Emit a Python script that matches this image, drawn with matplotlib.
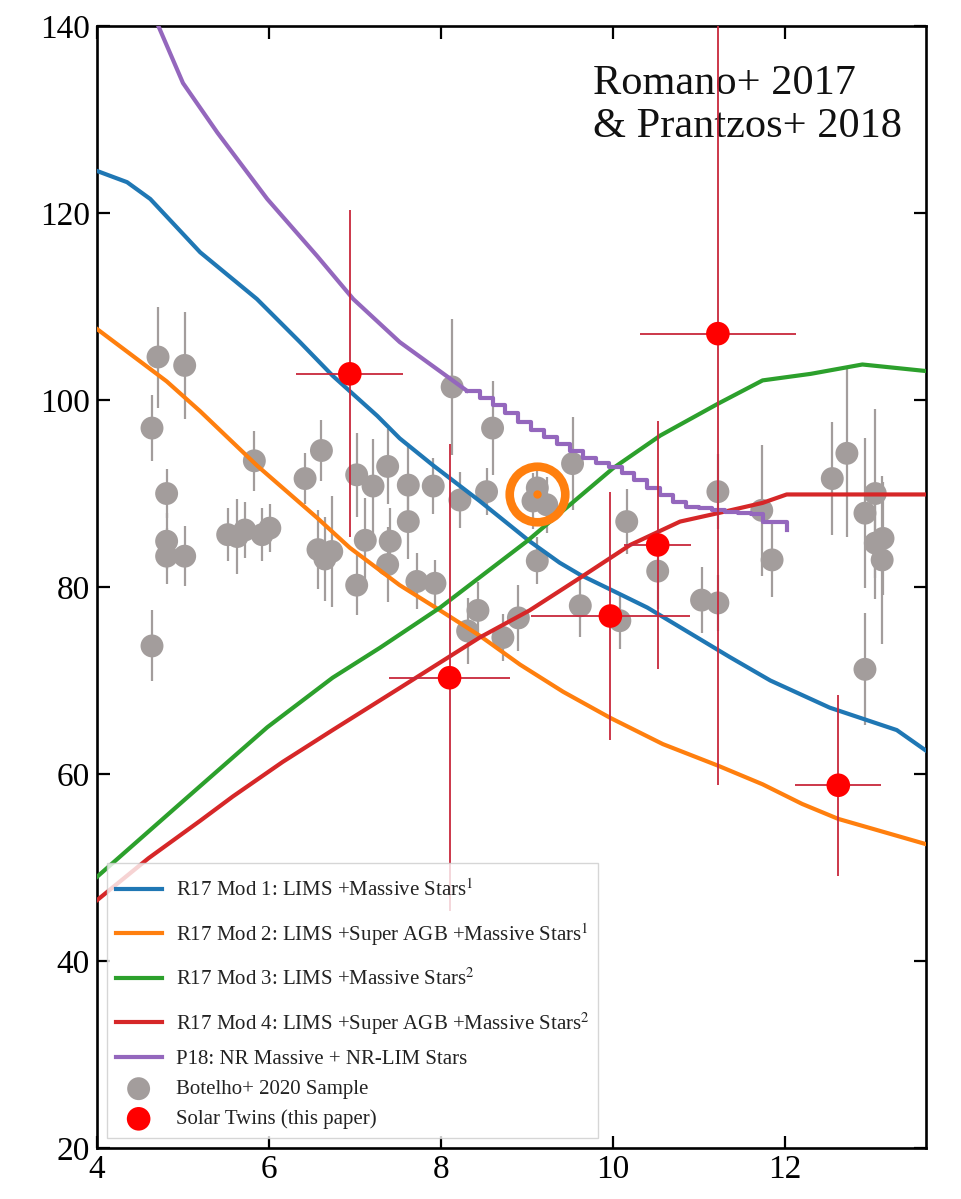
import matplotlib
matplotlib.use("Agg")
import matplotlib.pyplot as plt
from matplotlib.offsetbox import DrawingArea
from matplotlib.lines import Line2D

plt.rcParams['font.family'] = ['Liberation Serif', 'DejaVu Serif']
plt.rcParams['mathtext.fontset'] = 'stix'

# ---------------- data ----------------
mod1_x = [4.0, 4.35, 4.62, 5.2, 5.86, 6.36, 6.74, 7.26, 7.52, 7.91, 8.45, 9.03, 9.38, 9.62, 10.0, 10.4, 10.98, 11.36, 11.83, 12.52, 13.3, 13.64]
mod1_y = [124.5, 123.3, 121.5, 115.8, 110.8, 106.2, 102.6, 98.3, 95.9, 93.0, 89.2, 84.9, 82.6, 81.3, 79.6, 77.8, 74.6, 72.5, 70.0, 67.1, 64.7, 62.5]

mod2_x = [4.0, 4.81, 5.2, 5.86, 6.56, 6.94, 7.52, 7.99, 8.45, 8.92, 9.42, 9.97, 10.58, 11.22, 11.74, 12.2, 12.62, 13.64]
mod2_y = [107.6, 102.0, 98.8, 93.0, 87.4, 84.2, 80.2, 77.5, 74.8, 71.7, 68.8, 66.0, 63.2, 60.9, 58.9, 56.8, 55.2, 52.5]

mod3_x = [4.0, 5.05, 5.98, 6.74, 7.29, 7.99, 9.0, 10.0, 10.55, 11.22, 11.74, 12.3, 12.9, 13.64]
mod3_y = [49.0, 57.5, 65.0, 70.3, 73.5, 77.8, 84.9, 92.7, 96.2, 99.6, 102.1, 102.8, 103.8, 103.1]

mod4_x = [4.0, 4.6, 5.2, 5.58, 6.16, 6.74, 7.52, 8.45, 9.03, 9.62, 10.2, 10.78, 11.22, 11.74, 12.02, 13.64]
mod4_y = [46.5, 51.0, 55.0, 57.6, 61.3, 64.7, 69.2, 74.6, 77.5, 81.0, 84.5, 87.0, 87.9, 89.0, 89.9, 89.9]

p18_x = [4.65, 4.70, 5.0, 5.4, 5.98, 6.56, 6.98, 7.52, 8.0, 8.30]
p18_y = [141.0, 140.3, 133.9, 128.6, 121.5, 115.4, 110.8, 106.2, 103.0, 101.0]
p18_step_x = [8.30, 8.45, 8.60, 8.75, 8.90, 9.05, 9.20, 9.35, 9.50, 9.65, 9.80, 9.95, 10.10, 10.25, 10.40, 10.55, 10.70, 10.85, 11.00, 11.15, 11.30, 11.45, 11.60, 11.75, 11.90, 12.02]
p18_step_y = [101.0, 100.2, 99.5, 98.6, 97.7, 96.8, 96.0, 95.3, 94.5, 93.8, 93.3, 92.8, 92.2, 91.5, 90.6, 89.8, 89.1, 88.6, 88.5, 88.2, 88.0, 87.9, 87.8, 87.0, 87.0, 86.1]

bot_x = [4.64, 4.81, 4.81, 4.81, 5.02, 4.64, 4.71, 5.02, 5.83, 5.52, 5.63, 5.72, 5.92, 6.01,
         6.42, 6.61, 6.57, 6.65, 6.73, 7.02, 7.21, 7.12, 7.02, 7.38, 7.41, 7.38, 7.62, 7.62,
         7.72, 7.91, 7.93, 8.22, 8.13, 8.53, 8.60, 8.43, 8.31, 8.72, 8.90, 9.07, 9.12, 9.23,
         9.53, 9.12, 9.62, 10.08, 10.16, 10.52, 11.03, 11.22, 11.22, 11.73, 11.85, 12.55, 12.72,
         12.93, 13.05, 13.05, 13.14, 13.13, 12.93]
bot_y = [97.0, 90.0, 84.9, 83.3, 83.3, 73.7, 104.6, 103.7, 93.5, 85.6, 85.4, 86.1, 85.6, 86.3,
         91.6, 94.6, 84.0, 83.0, 83.8, 92.0, 90.8, 85.0, 80.2, 92.9, 84.9, 82.4, 90.9, 87.0,
         80.6, 90.8, 80.4, 89.3, 101.4, 90.2, 97.0, 77.5, 75.3, 74.6, 76.7, 89.2, 90.6, 88.8,
         93.2, 82.8, 78.0, 76.4, 87.0, 81.7, 78.6, 78.3, 90.2, 88.2, 82.9, 91.6, 94.3,
         87.9, 90.0, 84.7, 85.2, 82.9, 71.2]
bot_err = [3.5, 2.6, 3.0, 3.0, 3.2, 3.8, 5.4, 5.7, 3.2, 2.8, 4.0, 3.0, 2.8, 2.6,
           2.7, 3.3, 4.2, 4.5, 5.9, 4.5, 5.0, 4.5, 3.2, 4.0, 3.5, 4.0, 4.5, 4.0,
           3.0, 3.0, 2.5, 3.0, 7.3, 2.5, 5.0, 3.0, 3.5, 2.5, 3.5, 3.0, 2.5, 3.0,
           5.0, 2.5, 3.3, 3.0, 3.5, 4.0, 3.5, 3.0, 4.0, 7.0, 4.0, 6.0, 9.0,
           8.0, 9.0, 6.0, 6.0, 9.0, 6.0]

twin_x = [6.94, 8.10, 9.97, 10.52, 11.22, 12.62]
twin_y = [102.8, 70.3, 76.9, 84.5, 107.1, 58.8]
twin_xerr = [0.62, 0.70, 0.92, 0.39, 0.91, 0.50]
twin_yerr = [17.5, 25.0, 13.3, 13.3, 48.3, 9.7]

sun_x = [9.12]
sun_y = [90.0]

labels = ['R17 Mod 1: LIMS +Massive Stars$^1$',
          'R17 Mod 2: LIMS +Super AGB +Massive Stars$^1$',
          'R17 Mod 3: LIMS +Massive Stars$^2$',
          'R17 Mod 4: LIMS +Super AGB +Massive Stars$^2$',
          'P18: NR Massive + NR-LIM Stars',
          'Botelho+ 2020 Sample',
          'Solar Twins (this paper)']

line_colors = ['#1f77b4', '#ff7f0e', '#2ca02c', '#d62728', '#9467bd']

# ---------------- figure ----------------
fig = plt.figure(figsize=(9.61, 11.99), dpi=100)
ax = fig.add_axes([0.1009, 0.0425, 0.8627, 0.9358])

gray = '#a39d9c'
ax.errorbar(bot_x, bot_y, yerr=bot_err, fmt='none', ecolor=gray, elinewidth=1.6, zorder=1)
ax.scatter(bot_x, bot_y, s=16.5**2, color=gray, edgecolors='none', zorder=1.5, label=labels[5])

lw = 3.0
ax.plot(mod1_x, mod1_y, color=line_colors[0], lw=lw, zorder=3, label=labels[0])
ax.plot(mod2_x, mod2_y, color=line_colors[1], lw=lw, zorder=3, label=labels[1])
ax.plot(mod3_x, mod3_y, color=line_colors[2], lw=lw, zorder=3, label=labels[2])
ax.plot(mod4_x, mod4_y, color=line_colors[3], lw=lw, zorder=3, label=labels[3])
ax.plot(p18_x, p18_y, color=line_colors[4], lw=lw, zorder=3, label=labels[4])
ax.plot(p18_step_x, p18_step_y, color=line_colors[4], lw=lw, zorder=3, drawstyle='steps-post')

ax.errorbar(twin_x, twin_y, xerr=twin_xerr, yerr=twin_yerr, fmt='none',
            ecolor='#c8283c', elinewidth=1.3, zorder=4)
ax.scatter(twin_x, twin_y, s=17**2, color='#ff0000', edgecolors='none', zorder=5, label=labels[6])

# Sun symbol
ax.plot(sun_x, sun_y, marker='o', markersize=40, markerfacecolor='none',
        markeredgecolor='#ff7f0e', markeredgewidth=6.2, zorder=6, linestyle='none')
ax.plot(sun_x, sun_y, marker='o', markersize=5, color='#ff7f0e', zorder=6, linestyle='none')

ax.set_xlim(4, 13.64)
ax.set_ylim(20, 140)
ax.set_xticks([4, 6, 8, 10, 12])
ax.set_yticks([20, 40, 60, 80, 100, 120, 140])
ax.tick_params(direction='in', top=True, right=True, length=9, width=1.6,
               labelsize=24, pad=5)
for s in ax.spines.values():
    s.set_linewidth(1.9)

ax.text(0.598, 0.966, 'Romano+ 2017\n& Prantzos+ 2018', transform=ax.transAxes,
        ha='left', va='top', fontsize=30.5, linespacing=1.18, color='#111111')

handles, labs = ax.get_legend_handles_labels()
order = [labs.index(l) for l in labels]
leg = ax.legend([handles[i] for i in order], [labs[i] for i in order],
                loc='lower left', fontsize=15, handlelength=2.2, handletextpad=0.7,
                fancybox=False, edgecolor='#cccccc', framealpha=0.8,
                borderaxespad=0.5, labelspacing=0.5, scatterpoints=1)
for t in leg.get_texts():
    t.set_color('#222222')

# the entries with superscripts sit in taller rows in the original legend
extra = 7.0
for da in leg.findobj(DrawingArea):
    kids = [c for c in da.get_children() if isinstance(c, Line2D)]
    if kids and kids[0].get_color() in line_colors[:4]:
        da.height += 2 * extra
        da.ydescent += extra

fig.savefig('out.png', dpi=100)
